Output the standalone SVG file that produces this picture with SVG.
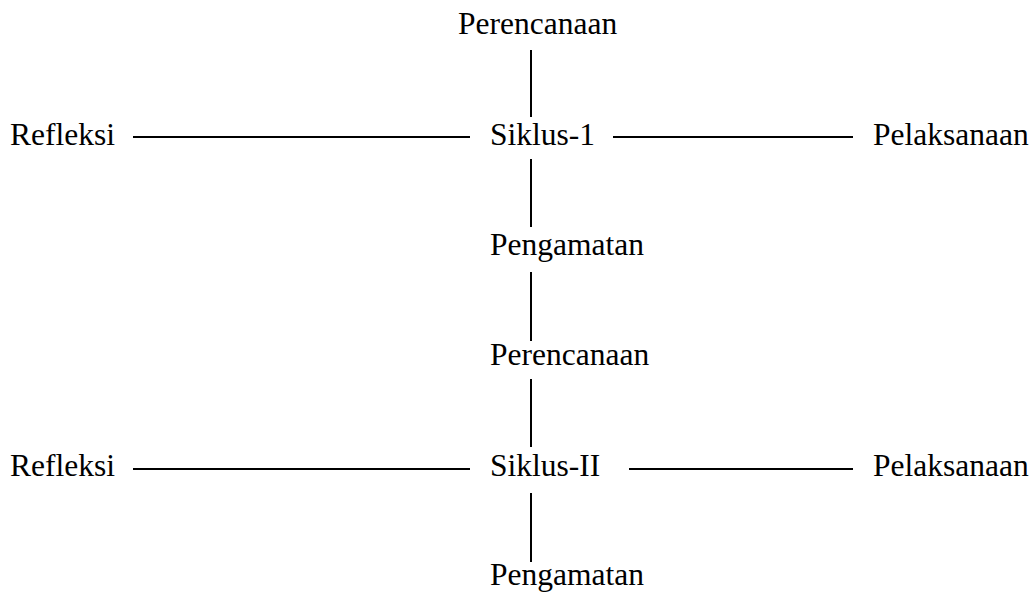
<svg xmlns="http://www.w3.org/2000/svg" width="1036" height="592" viewBox="0 0 1036 592">
<style>
text{font-family:"Liberation Serif","Times New Roman",serif;font-size:31.5px;fill:#000}
line{stroke:#000;stroke-width:2}
</style>
<rect width="1036" height="592" fill="#fff"/>
<g id="connectors">
<line x1="531" y1="50" x2="531" y2="117"/>
<line x1="133" y1="137" x2="470" y2="137"/>
<line x1="613" y1="137" x2="853" y2="137"/>
<line x1="531" y1="159" x2="531" y2="227"/>
<line x1="531" y1="272" x2="531" y2="341"/>
<line x1="531" y1="379" x2="531" y2="447"/>
<line x1="133" y1="469" x2="470" y2="469"/>
<line x1="629" y1="469" x2="853" y2="469"/>
<line x1="531" y1="493" x2="531" y2="562"/>
</g>
<g id="perencanaan1"><text x="458" y="34">Perencanaan</text></g>
<g id="refleksi1"><text x="10" y="145">Refleksi</text></g>
<g id="siklus1"><text x="490" y="145">Siklus-1</text></g>
<g id="pelaksanaan1"><text x="873" y="145">Pelaksanaan</text></g>
<g id="pengamatan1"><text x="490" y="255">Pengamatan</text></g>
<g id="perencanaan2"><text x="490" y="365">Perencanaan</text></g>
<g id="refleksi2"><text x="10" y="476">Refleksi</text></g>
<g id="siklus2"><text x="490" y="476">Siklus-II</text></g>
<g id="pelaksanaan2"><text x="873" y="476">Pelaksanaan</text></g>
<g id="pengamatan2"><text x="490" y="585">Pengamatan</text></g>
</svg>
